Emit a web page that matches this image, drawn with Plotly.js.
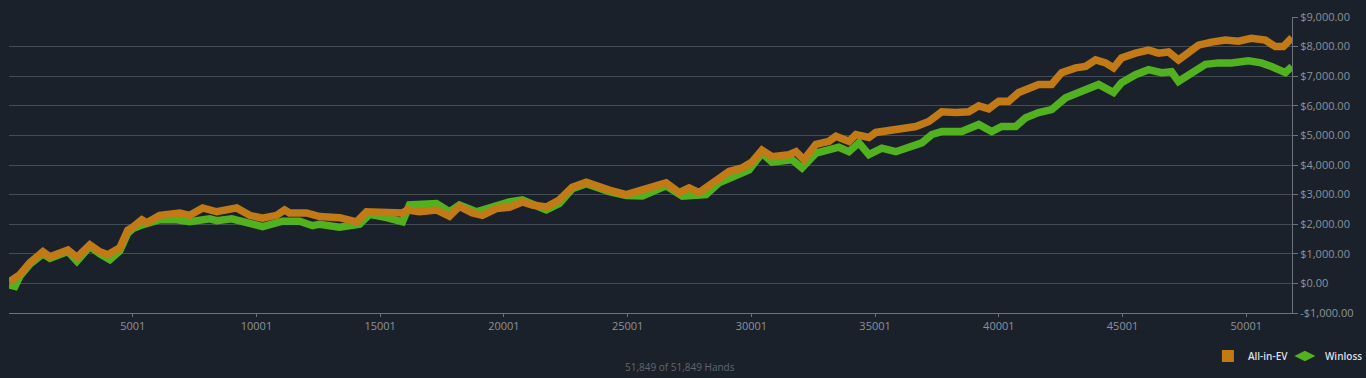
<!DOCTYPE html>
<html>
<head>
<meta charset="utf-8">
<script src="https://cdn.plot.ly/plotly-3.0.1.min.js"></script>
<style>
html,body{margin:0;padding:0;background:#1b212a;}
#chart{width:1366px;height:378px;}
</style>
</head>
<body>
<div id="chart"></div>
<script>
// Hand numbers and cumulative $ values
const evHands = [1,242,444,848,1372,1655,2058,2381,2744,3269,3673,3996,4480,4803,5005,5368,5570,6094,6902,7305,7830,8395,9202,9727,10251,10816,11139,11341,12027,12552,13359,14045,14449,15095,15377,15902,16104,16588,17274,17799,18202,18727,19131,19696,20220,20745,21149,21714,22238,22763,23328,23732,24256,24942,25467,25870,26274,26557,27081,27485,27889,28575,29099,29624,30028,30431,30835,31521,31804,32127,32611,33136,33418,33943,34225,34750,35032,35840,36647,37172,37696,38261,38786,39190,39593,39997,40400,40804,41611,42136,42540,43105,43508,43912,44315,44638,44961,45526,46051,46454,46858,47262,47665,48069,48593,49158,49683,50207,50772,51176,51499,51849];
const evValues = [50,150,300,700,1070,900,1030,1130,880,1300,1070,970,1200,1800,1900,2150,2050,2300,2380,2300,2550,2420,2550,2300,2200,2300,2480,2380,2380,2260,2220,2080,2420,2420,2380,2380,2480,2420,2480,2270,2600,2380,2300,2530,2570,2750,2650,2580,2820,3250,3420,3280,3150,3000,3100,3230,3330,3400,3070,3230,3070,3500,3780,3900,4100,4500,4280,4350,4450,4180,4700,4800,4970,4800,5030,4930,5100,5200,5300,5470,5800,5770,5800,6000,5900,6150,6150,6450,6720,6720,7120,7280,7330,7550,7450,7280,7620,7780,7880,7780,7820,7550,7780,8050,8150,8220,8180,8280,8220,8000,8000,8300];

const wlHands = [1,242,444,848,1372,1655,2058,2381,2744,3269,3673,4077,4480,4803,5005,5287,6094,6781,7305,8113,8395,9000,10251,11058,11745,12269,12552,13359,14166,14570,15256,15902,16185,16871,17274,17799,18202,18889,19696,20220,20745,21714,22238,22763,23328,23732,24256,24942,25596,26153,26557,27212,28171,28696,29906,30431,30835,31642,32046,32611,33136,33539,33943,34346,34750,35275,35840,36365,36889,37293,37696,38504,39190,39714,40118,40683,41087,41611,42136,42701,43226,43750,44033,44638,44961,45526,46051,46575,46979,47262,47786,48351,48876,49400,50086,50611,51014,51580,51849];
const wlValues = [-50,-100,250,650,1000,850,980,1080,750,1250,1000,800,1100,1700,1850,1950,2150,2150,2080,2180,2120,2180,1920,2100,2100,1950,2000,1900,2000,2330,2220,2080,2650,2650,2700,2420,2650,2420,2650,2750,2820,2480,2700,3200,3370,3250,3100,2970,2950,3150,3300,2950,3000,3400,3830,4400,4100,4180,3900,4400,4500,4600,4450,4750,4350,4570,4450,4620,4750,5030,5130,5130,5370,5130,5300,5300,5600,5770,5870,6270,6450,6620,6720,6450,6780,7050,7220,7120,7150,6820,7120,7400,7450,7450,7520,7450,7330,7120,7330];

const xTickVals = [5001,10001,15001,20001,25001,30001,35001,40001,45001,50001];
const xTickText = ["5001","10001","15001","20001","25001","30001","35001","40001","45001","50001"];
const yTickVals = [-1000,0,1000,2000,3000,4000,5000,6000,7000,8000,9000];
const yTickText = ["-$1,000.00","$0.00","$1,000.00","$2,000.00","$3,000.00","$4,000.00","$5,000.00","$6,000.00","$7,000.00","$8,000.00","$9,000.00"];
const seriesNames = ["All-in-EV","Winloss"];
const handsCaption = "51,849 of 51,849 Hands";

const EV_COLOR = "#c27a17";
const WL_COLOR = "#52b11f";

const traces = [
  {x: wlHands, y: wlValues, type: "scatter", mode: "lines", name: seriesNames[1],
   line: {color: WL_COLOR, width: 7.5}, showlegend: false, hoverinfo: "skip"},
  {x: evHands, y: evValues, type: "scatter", mode: "lines", name: seriesNames[0],
   line: {color: EV_COLOR, width: 7.5}, showlegend: false, hoverinfo: "skip"},
  {x: [null], y: [null], type: "scatter", mode: "markers", name: seriesNames[0],
   marker: {symbol: "square", size: 12, color: EV_COLOR}, showlegend: true},
  {x: [null], y: [null], type: "scatter", mode: "markers", name: seriesNames[1],
   marker: {symbol: "diamond-wide", size: 15, color: WL_COLOR}, showlegend: true}
];

const layout = {
  width: 1366, height: 378,
  paper_bgcolor: "#1b212a", plot_bgcolor: "#1b212a",
  margin: {l: 9, r: 74, t: 17, b: 65, autoexpand: false},
  font: {family: "Open Sans, sans-serif", size: 11, color: "#8b929b"},
  showlegend: true,
  legend: {orientation: "h", xref: "container", x: 0.997, xanchor: "right", y: -0.145, yanchor: "middle",
           font: {size: 10, color: "#dcdfe2", weight: 600}, bgcolor: "rgba(0,0,0,0)", itemwidth: 30,
           entrywidth: 32, entrywidthmode: "pixels", tracegroupgap: 0},
  xaxis: {range: [1, 51849], tickvals: xTickVals, ticktext: xTickText,
          showgrid: false, zeroline: false, showline: true, linecolor: "#6b737d", linewidth: 1,
          ticks: "outside", ticklen: 3, tickcolor: "#6b737d",
          tickfont: {size: 11, color: "#8b929b"}},
  yaxis: {range: [-1000, 9000], side: "right", tickvals: yTickVals, ticktext: yTickText,
          showgrid: true, gridcolor: "#434b55", gridwidth: 1, zeroline: false,
          showline: true, linecolor: "#6b737d", linewidth: 1,
          ticks: "outside", ticklen: 5, tickcolor: "#6b737d",
          tickfont: {size: 11, color: "#8b929b"}},
  annotations: [
    {text: handsCaption, xref: "paper", yref: "paper", x: 0.523, y: -0.182,
     xanchor: "center", yanchor: "middle", showarrow: false,
     font: {size: 10, color: "#5f6670"}}
  ]
};

Plotly.newPlot("chart", traces, layout, {displayModeBar: false, staticPlot: true});
</script>
</body>
</html>
